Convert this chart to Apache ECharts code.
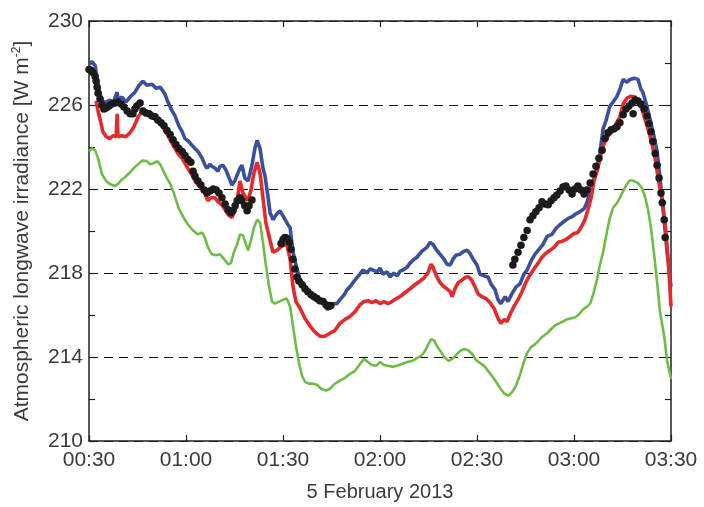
<!DOCTYPE html>
<html>
<head>
<meta charset="utf-8">
<script src="https://cdn.jsdelivr.net/npm/echarts@6/dist/echarts.min.js"></script>
<style>
html,body{margin:0;padding:0;background:#fff;}
#chart{width:704px;height:507px;}
</style>
</head>
<body>
<div id="chart"></div>
<script>
// time in minutes since midnight (5 February 2013), irradiance in W m-2
var xTicks = [30, 60, 90, 120, 150, 180, 210];
var yTicks = [210, 214, 218, 222, 226, 230];

var blueData = [
[30.0,227.93],[30.9,228.07],[31.9,227.88],[32.5,227.22],[33.4,226.52],[34.3,226.14],[35.3,226.14],[36.5,226.24],
[37.4,226.09],[38.7,226.61],[39.0,226.24],[40.2,226.38],[41.4,226.14],[42.7,226.38],[44.2,226.61],[45.5,226.94],
[46.7,227.13],[47.9,226.94],[49.5,226.99],[50.7,226.80],[52.0,226.85],[53.5,226.52],[54.4,226.14],[55.7,225.72],
[56.6,225.48],[57.8,225.01],[58.8,224.73],[59.7,224.40],[60.9,224.26],[61.9,224.07],[62.8,223.93],[63.7,223.79],
[65.0,223.46],[65.9,223.13],[66.5,222.99],[67.4,223.18],[68.0,223.08],[69.0,222.99],[69.9,222.85],[70.5,223.08],
[71.4,223.13],[72.4,222.89],[73.0,222.66],[74.2,222.19],[75.2,222.42],[75.8,222.66],[76.7,222.99],[77.3,223.13],
[78.2,222.52],[79.2,222.38],[79.8,222.75],[80.4,223.13],[81.3,223.93],[82.0,224.31],[82.9,223.93],[83.8,222.99],
[84.4,222.66],[85.4,221.58],[86.0,220.87],[86.9,220.54],[88.1,220.82],[89.1,220.96],[90.3,220.64],[91.5,220.31],
[92.2,220.16],[93.1,218.99],[94.3,218.19],[95.3,217.67],[96.5,217.44],[97.4,217.20],[99.0,217.01],[100.5,216.87],
[101.4,216.64],[102.7,216.54],[103.6,216.26],[104.5,216.40],[105.8,216.54],[106.7,216.54],[107.6,216.73],[108.9,216.96],
[109.8,217.20],[110.7,217.34],[112.3,217.67],[113.8,217.95],[114.7,218.14],[116.0,218.00],[116.9,218.19],[117.8,218.14],
[119.1,218.05],[120.0,218.24],[120.9,217.95],[122.2,218.05],[123.1,217.81],[124.3,218.00],[125.3,217.86],[126.2,218.09],
[127.1,218.14],[128.4,218.28],[129.3,218.47],[130.2,218.61],[131.4,218.75],[132.4,218.94],[133.3,219.08],[134.5,219.22],
[135.5,219.46],[136.4,219.36],[137.3,219.13],[138.6,218.89],[139.8,218.66],[140.7,218.42],[141.7,218.38],[142.6,218.66],
[143.5,218.85],[144.7,218.89],[146.0,219.04],[146.9,219.08],[147.8,218.94],[148.8,218.66],[150.0,218.38],[150.9,217.95],
[152.2,217.86],[153.4,217.81],[154.3,217.48],[155.6,217.20],[156.5,216.73],[157.4,216.54],[158.7,216.87],[159.6,216.64],
[160.8,217.01],[162.1,217.34],[163.3,217.48],[164.5,217.95],[165.5,218.14],[166.7,218.56],[167.9,218.89],[169.2,219.13],
[170.4,219.36],[171.7,219.74],[173.2,219.84],[174.4,220.12],[175.7,220.31],[176.9,220.45],[178.1,220.59],[179.4,220.68],
[180.6,220.82],[181.9,220.92],[183.1,221.06],[184.0,221.34],[185.0,221.91],[186.2,222.52],[187.1,222.99],[188.0,223.69],
[189.0,224.87],[189.9,225.25],[191.1,225.95],[192.1,226.14],[193.3,226.42],[194.2,226.75],[195.2,227.22],[196.4,227.08],
[197.3,227.22],[198.6,227.27],[199.8,227.22],[200.7,226.75],[201.3,226.61],[202.6,225.91],[203.5,225.34],[204.7,224.54],
[205.7,223.79],[206.6,222.52],[207.6,220.96],[208.8,218.99],[210.0,217.34]
];

var redData = [
[32.2,226.19],[32.8,225.72],[33.4,225.34],[34.3,224.73],[35.3,224.49],[36.5,224.40],[37.4,224.54],[38.4,224.49],
[38.7,225.58],[39.0,224.49],[40.2,224.54],[41.4,224.49],[42.7,224.68],[43.9,224.96],[45.2,225.44],[46.1,225.62],
[47.3,225.67],[48.2,225.58],[49.5,225.48],[50.4,225.34],[51.6,225.15],[52.6,225.01],[53.5,224.78],[54.4,224.54],
[55.7,224.16],[56.6,223.93],[57.5,223.69],[58.8,223.46],[59.7,223.22],[60.6,222.99],[61.9,222.66],[62.8,222.38],
[63.7,222.19],[65.0,222.05],[65.9,221.76],[66.8,221.44],[67.7,221.58],[69.0,221.58],[69.9,221.39],[71.1,221.25],
[72.1,221.01],[73.0,220.78],[74.2,220.64],[75.2,221.01],[75.8,221.44],[76.7,222.38],[77.6,221.81],[78.6,221.58],
[79.2,221.44],[80.1,221.95],[81.0,222.75],[82.0,223.27],[82.9,222.75],[83.8,221.58],[84.7,220.40],[86.0,219.55],
[86.9,218.99],[88.1,219.08],[89.1,219.22],[90.3,219.32],[91.2,219.36],[92.2,218.66],[93.1,217.34],[94.0,216.64],
[95.3,216.31],[96.8,215.84],[98.4,215.46],[99.9,215.18],[101.4,214.99],[103.0,214.99],[104.5,215.13],[106.1,215.27],
[107.6,215.60],[109.2,215.79],[110.7,215.93],[112.3,216.16],[113.8,216.49],[115.1,216.64],[116.3,216.68],[117.5,216.59],
[118.8,216.68],[120.0,216.54],[121.2,216.64],[122.5,216.54],[123.7,216.64],[125.0,216.78],[126.2,216.87],[127.7,217.06],
[129.3,217.25],[130.8,217.44],[132.4,217.62],[133.6,217.76],[134.8,218.00],[135.8,218.42],[136.4,218.28],[137.3,217.91],
[138.6,217.53],[139.8,217.34],[140.7,217.25],[141.7,217.11],[142.3,216.87],[143.2,217.25],[144.1,217.53],[145.4,217.67],
[146.6,217.81],[147.5,217.81],[148.5,217.62],[149.4,217.34],[150.3,217.01],[151.5,216.87],[152.8,216.78],[154.0,216.59],
[155.3,216.31],[156.5,215.84],[157.4,215.60],[158.4,215.79],[159.3,215.69],[160.2,216.02],[161.4,216.40],[162.7,216.73],
[163.9,217.11],[165.2,217.58],[166.4,217.91],[167.6,218.19],[168.9,218.47],[170.1,218.75],[171.3,218.94],[172.6,219.08],
[173.8,219.22],[175.1,219.46],[176.3,219.51],[177.5,219.60],[178.8,219.74],[180.0,219.88],[181.2,219.93],[182.5,220.26],
[183.4,220.54],[184.3,221.01],[185.3,221.58],[186.2,222.38],[187.4,222.99],[188.7,223.93],[189.6,224.26],[190.8,224.59],
[191.8,224.73],[193.0,225.11],[194.2,225.44],[195.2,226.05],[196.4,226.33],[197.6,226.42],[198.9,226.38],[199.8,226.14],
[201.0,225.81],[201.9,225.34],[202.9,224.87],[204.1,224.16],[205.1,223.46],[206.0,222.52],[207.3,221.44],[208.3,220.16],
[209.2,218.52],[210.0,216.40]
];

var greenData = [
[30.0,223.79],[30.9,223.93],[31.9,223.84],[32.8,223.46],[34.0,222.71],[35.3,222.38],[36.5,222.24],[38.0,222.14],
[39.0,222.24],[39.9,222.42],[41.1,222.56],[42.7,222.80],[44.2,223.04],[45.8,223.27],[46.7,223.36],[47.9,223.32],
[48.9,223.18],[49.8,223.22],[51.0,223.32],[52.0,223.18],[52.9,222.89],[54.1,222.52],[55.1,222.24],[56.0,221.91],
[56.9,221.48],[57.8,221.06],[59.1,220.68],[60.6,220.31],[62.2,220.02],[63.7,219.84],[65.0,219.93],[65.9,219.65],
[66.8,219.22],[68.0,218.89],[69.3,218.85],[70.5,218.89],[71.8,218.66],[73.0,218.42],[73.9,218.47],[74.8,218.99],
[75.8,219.36],[76.7,219.84],[77.6,219.79],[78.6,219.36],[79.2,219.08],[80.1,219.55],[81.0,220.16],[82.0,220.54],
[82.9,220.40],[83.8,219.46],[84.7,218.38],[85.7,217.34],[86.6,216.64],[87.5,216.54],[88.8,216.64],[90.0,216.73],
[91.2,216.78],[92.2,216.40],[93.1,215.46],[94.0,214.52],[95.0,213.67],[95.9,213.11],[96.8,212.82],[98.0,212.73],
[99.3,212.73],[100.5,212.68],[101.8,212.49],[103.3,212.40],[104.5,212.49],[106.1,212.73],[107.6,212.87],[109.2,213.01],
[110.7,213.20],[112.3,213.34],[113.8,213.67],[115.1,213.91],[116.3,213.76],[117.5,213.62],[118.8,213.58],[120.0,213.76],
[121.2,213.62],[122.5,213.58],[123.7,213.53],[125.3,213.58],[126.8,213.67],[128.4,213.76],[129.9,213.81],[131.4,213.95],
[132.7,214.05],[133.9,214.28],[134.8,214.56],[135.8,214.85],[136.7,214.80],[137.6,214.52],[138.9,214.24],[140.1,213.95],
[141.3,213.81],[142.3,213.91],[143.5,214.09],[144.7,214.28],[146.0,214.38],[147.2,214.33],[148.5,214.14],[149.7,213.86],
[150.9,213.72],[152.2,213.58],[153.4,213.34],[154.6,213.11],[155.9,212.82],[157.1,212.54],[158.4,212.26],[159.6,212.16],
[160.8,212.31],[162.1,212.64],[163.3,213.15],[164.5,213.76],[165.5,214.19],[166.7,214.47],[168.0,214.61],[169.2,214.80],
[170.4,214.99],[171.7,215.13],[172.9,215.32],[174.2,215.51],[175.4,215.60],[176.6,215.69],[177.8,215.79],[179.1,215.84],
[180.3,215.88],[181.5,216.02],[182.8,216.26],[184.0,216.40],[185.0,216.54],[185.9,216.96],[187.1,217.67],[188.0,218.38],
[189.0,218.99],[190.2,219.98],[191.1,220.64],[192.1,221.11],[193.3,221.34],[194.2,221.58],[195.2,221.91],[196.4,222.24],
[197.3,222.42],[198.6,222.38],[199.8,222.28],[201.0,222.05],[201.9,221.67],[202.9,221.01],[203.8,220.16],[204.7,218.99],
[205.7,217.58],[206.6,216.16],[207.9,214.99],[208.8,213.81],[210.0,212.96]
];

var blackData = [
[30.0,227.69],[30.6,227.65],[31.2,227.55],[31.9,227.36],[32.2,227.13],[32.5,226.85],[32.8,226.56],[33.4,226.28],
[34.0,226.00],[34.6,225.81],[35.3,225.86],[36.2,225.95],[37.1,226.05],[38.0,226.09],[39.0,226.14],[39.9,226.05],
[40.8,225.91],[41.8,225.72],[42.7,225.58],[43.6,225.58],[44.2,225.81],[44.8,225.95],[45.8,226.09],[46.7,225.72],
[47.6,225.62],[48.6,225.58],[49.5,225.48],[50.4,225.44],[51.3,225.29],[52.3,225.15],[53.2,225.01],[54.1,224.78],
[55.1,224.59],[56.0,224.35],[56.9,224.12],[57.8,223.93],[58.8,223.79],[59.7,223.60],[60.6,223.41],[61.5,223.27],
[62.2,222.85],[62.8,222.61],[63.7,222.38],[64.6,222.19],[65.6,221.95],[66.5,221.81],[67.4,221.91],[68.4,222.00],
[69.3,221.95],[70.2,221.81],[71.1,221.58],[72.1,221.29],[73.0,221.01],[73.9,220.87],[74.5,220.96],[75.2,221.20],
[75.8,221.44],[76.7,221.58],[77.3,221.44],[78.2,221.20],[78.9,220.96],[79.5,221.20],[80.4,221.48],
[89.4,219.41],[90.0,219.60],[90.6,219.69],[91.2,219.65],[91.9,219.46],[92.5,219.13],[93.1,218.66],[93.7,218.19],
[94.3,217.81],[94.9,217.62],[95.9,217.44],[96.8,217.25],[97.7,217.11],[98.7,216.96],[99.6,216.87],[100.5,216.78],
[101.4,216.68],[102.4,216.64],[103.3,216.49],[104.2,216.40],[104.8,216.45],
[161.1,218.38],[161.7,218.66],[162.7,218.99],[163.6,219.32],[164.5,219.69],[165.5,220.02],[166.4,220.54],[167.3,220.73],
[168.2,220.92],[169.2,221.11],[170.1,221.39],[171.0,221.29],[172.0,221.25],[172.9,221.44],[173.8,221.58],[174.7,221.72],
[175.7,221.91],[176.6,222.09],[177.5,222.14],[178.5,221.95],[179.4,221.76],[180.3,222.00],[181.2,222.14],[182.2,221.95],
[183.1,221.76],[184.0,221.95],[185.0,222.28],[185.9,222.71],[186.8,223.08],[187.7,223.46],[188.7,223.84],[189.6,224.40],
[190.5,224.68],[191.5,224.82],[192.4,224.87],[193.3,224.96],[194.2,225.15],[195.2,225.53],[196.1,225.81],[197.0,225.95],
[198.0,226.09],[198.3,225.58],[198.9,226.24],[199.8,226.19],[200.7,226.05],[201.7,225.81],[202.6,225.48],[203.2,225.11],
[203.8,224.73],[204.4,224.26],[205.1,223.69],[205.7,223.13],[206.3,222.52],[206.9,221.81],[207.3,221.34],[207.9,220.54],
[208.2,219.69]
];

var FONT = '"Liberation Sans", "Helvetica Neue", Arial, sans-serif';
var AX = '#231f20';
var TXT = '#3b3b3b';

function fmtTime(v) {
  var h = Math.floor(v / 60), m = v % 60;
  return (h < 10 ? '0' : '') + h + ':' + (m < 10 ? '0' : '') + m;
}

var chart = echarts.init(document.getElementById('chart'), null, {renderer: 'canvas'});
var axisLine = {show: true, lineStyle: {color: AX, width: 1.5}};
chart.setOption({
  animation: false,
  backgroundColor: '#fff',
  grid: {left: 89, right: 33, top: 21, bottom: 61, containLabel: false},
  xAxis: [{
    type: 'value', min: xTicks[0], max: xTicks[xTicks.length - 1], interval: 30,
    position: 'bottom',
    axisLine: axisLine,
    axisTick: {show: true, inside: true, length: 6, lineStyle: {color: AX, width: 1.2}},
    axisLabel: {formatter: fmtTime, color: TXT, fontFamily: FONT, fontSize: 21, margin: 9},
    splitLine: {show: false},
    name: '5 February 2013', nameLocation: 'middle', nameGap: 41,
    nameTextStyle: {color: TXT, fontFamily: FONT, fontSize: 20}
  }, {
    type: 'value', min: xTicks[0], max: xTicks[xTicks.length - 1], interval: 30,
    position: 'top',
    axisLine: axisLine,
    axisTick: {show: true, inside: true, length: 6, lineStyle: {color: AX, width: 1.2}},
    axisLabel: {show: false},
    splitLine: {show: false}
  }],
  yAxis: [{
    type: 'value', min: yTicks[0], max: yTicks[yTicks.length - 1], interval: 4,
    position: 'left',
    axisLine: axisLine,
    axisTick: {show: true, inside: true, length: 6, lineStyle: {color: AX, width: 1.2}},
    minorTick: {show: true, splitNumber: 2, length: 6, lineStyle: {color: AX, width: 1.2}},
    axisLabel: {color: TXT, fontFamily: FONT, fontSize: 21, margin: 6},
    splitLine: {show: true, lineStyle: {color: '#111', width: 1.2, type: [9, 6]}},
    name: 'Atmospheric longwave irradiance [W m{sup|-2}]',
    nameLocation: 'middle', nameRotate: 90, nameGap: 56,
    nameTextStyle: {color: TXT, fontFamily: FONT, fontSize: 21,
      rich: {sup: {fontSize: 12, verticalAlign: 'bottom', padding: [0, 0, 10, 0], color: TXT, fontFamily: FONT}}}
  }, {
    type: 'value', min: yTicks[0], max: yTicks[yTicks.length - 1], interval: 4,
    position: 'right',
    axisLine: axisLine,
    axisTick: {show: true, inside: true, length: 6, lineStyle: {color: AX, width: 1.2}},
    minorTick: {show: true, splitNumber: 2, length: 6, lineStyle: {color: AX, width: 1.2}},
    axisLabel: {show: false},
    splitLine: {show: false}
  }],
  series: [{
    type: 'line', name: 'green', data: greenData, showSymbol: false, symbol: 'none',
    lineStyle: {color: '#6cbd45', width: 2.6}, z: 2
  }, {
    type: 'line', name: 'blue', data: blueData, showSymbol: false, symbol: 'none',
    lineStyle: {color: '#3a4f9f', width: 3.6}, z: 3
  }, {
    type: 'line', name: 'red', data: redData, showSymbol: false, symbol: 'none',
    lineStyle: {color: '#e8292c', width: 3.6}, z: 4
  }, {
    type: 'scatter', name: 'black', data: blackData, symbol: 'circle', symbolSize: 7.5,
    itemStyle: {color: '#1c1a1b', opacity: 1}, z: 5
  }]
});
</script>
</body>
</html>
